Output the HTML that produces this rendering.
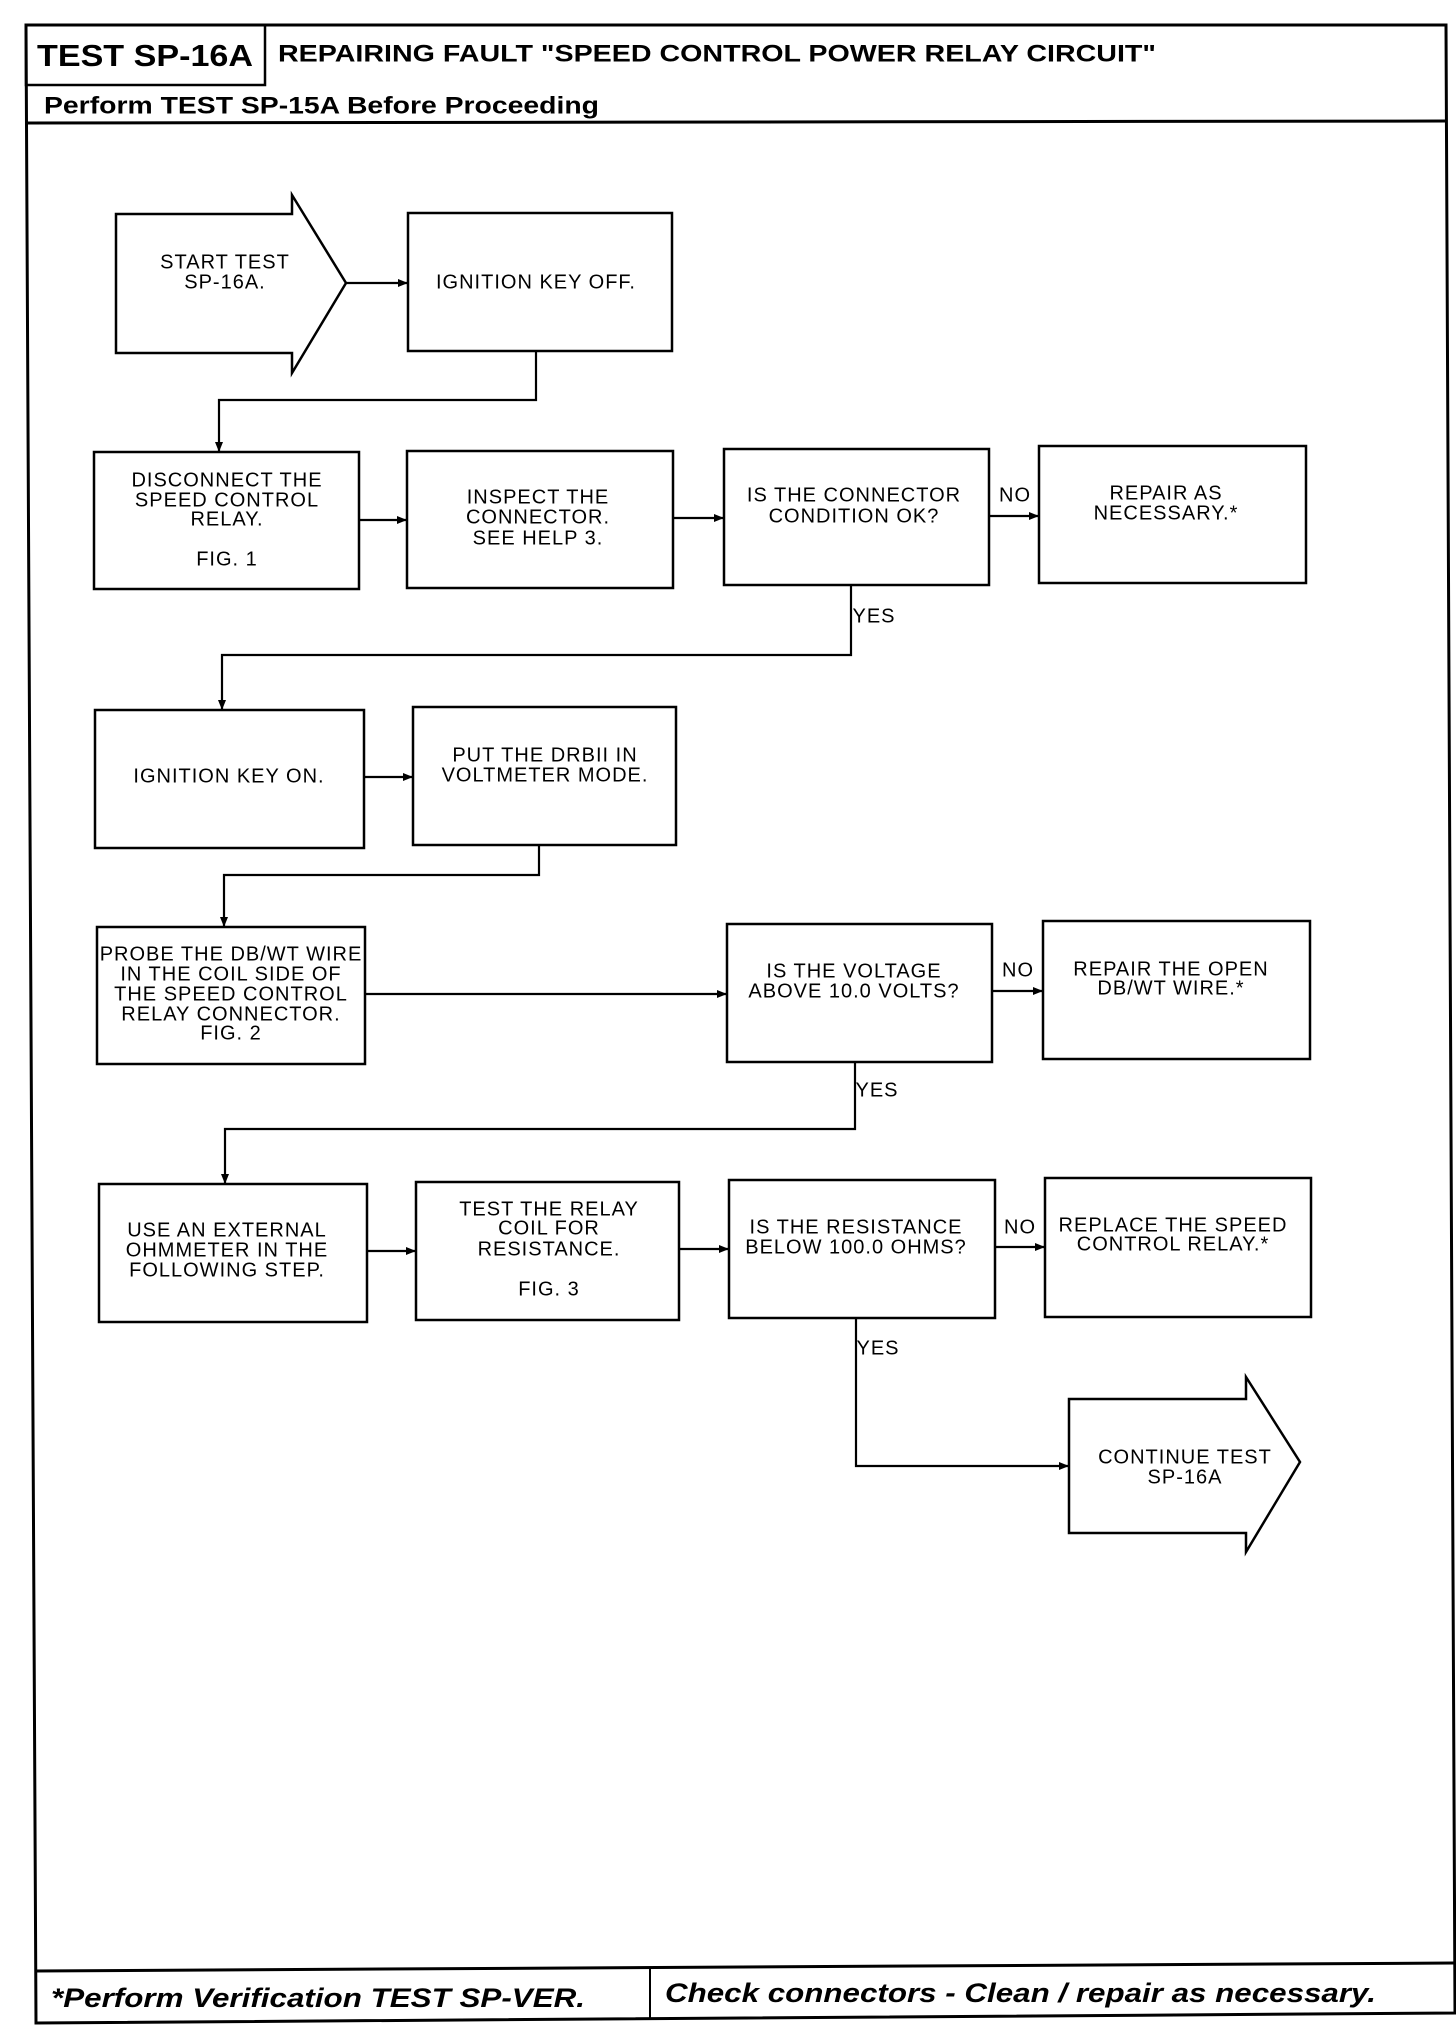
<!DOCTYPE html>
<html><head><meta charset="utf-8"><style>
html,body{margin:0;padding:0;background:#fff;}
svg{display:block;}
.t{font-family:"Liberation Sans Narrow","Liberation Sans",sans-serif;font-size:20px;fill:#000;text-anchor:middle;dominant-baseline:middle;letter-spacing:1px;}
.b{fill:#fff;stroke:#000;stroke-width:2.5;}
.l{fill:none;stroke:#000;stroke-width:2.2;}
</style></head><body>
<svg width="1456" height="2034" viewBox="0 0 1456 2034" xmlns="http://www.w3.org/2000/svg">
<defs><marker id="a" markerWidth="10" markerHeight="8" refX="9" refY="4" orient="auto" markerUnits="userSpaceOnUse"><path d="M0,0 L10,4 L0,8 z" fill="#000"/></marker></defs>
<!-- frame -->
<polygon points="26,25 1446,25 1455,2013 36,2023" fill="none" stroke="#000" stroke-width="3"/>
<rect x="26" y="25" width="239" height="60" fill="none" stroke="#000" stroke-width="2.5"/>
<line x1="26" y1="123" x2="1447" y2="121" stroke="#000" stroke-width="3"/>
<line x1="35" y1="1971" x2="1454" y2="1963" stroke="#000" stroke-width="3"/>
<line x1="650" y1="1969" x2="650" y2="2019" stroke="#000" stroke-width="2"/>
<text x="37" y="58" font-family="Liberation Sans,sans-serif" font-weight="bold" font-size="31" textLength="216" lengthAdjust="spacingAndGlyphs" dominant-baseline="middle">TEST SP-16A</text>
<text x="278" y="55" font-family="Liberation Sans,sans-serif" font-weight="bold" font-size="24" textLength="878" lengthAdjust="spacingAndGlyphs" dominant-baseline="middle">REPAIRING FAULT "SPEED CONTROL POWER RELAY CIRCUIT"</text>
<text x="44" y="107" font-family="Liberation Sans,sans-serif" font-weight="bold" font-size="24" textLength="555" lengthAdjust="spacingAndGlyphs" dominant-baseline="middle">Perform TEST SP-15A Before Proceeding</text>
<text x="51" y="2000" font-family="Liberation Sans,sans-serif" font-weight="bold" font-style="italic" font-size="27" textLength="534" lengthAdjust="spacingAndGlyphs" dominant-baseline="middle">*Perform Verification TEST SP-VER.</text>
<text x="665" y="1995" font-family="Liberation Sans,sans-serif" font-weight="bold" font-style="italic" font-size="27" textLength="711" lengthAdjust="spacingAndGlyphs" dominant-baseline="middle">Check connectors - Clean / repair as necessary.</text>

<!-- start arrow -->
<polygon class="b" points="116,214 292,214 292,195 346,283 292,373 292,353 116,353"/>
<text class="t" x="225" y="263">START TEST</text><text class="t" x="225" y="283">SP-16A.</text>
<rect class="b" x="408" y="213" width="264" height="138"/>
<text class="t" x="536" y="283">IGNITION KEY OFF.</text>
<line class="l" x1="346" y1="283" x2="407" y2="283" marker-end="url(#a)"/>
<polyline class="l" points="536,351 536,400 219,400 219,451" marker-end="url(#a)"/>

<!-- row 2 -->
<rect class="b" x="94" y="452" width="265" height="137"/>
<text class="t" x="227" y="481">DISCONNECT THE</text><text class="t" x="227" y="501">SPEED CONTROL</text><text class="t" x="227" y="520">RELAY.</text><text class="t" x="227" y="560">FIG. 1</text>
<rect class="b" x="407" y="451" width="266" height="137"/>
<text class="t" x="538" y="498">INSPECT THE</text><text class="t" x="538" y="518">CONNECTOR.</text><text class="t" x="538" y="539">SEE HELP 3.</text>
<rect class="b" x="724" y="449" width="265" height="136"/>
<text class="t" x="854" y="496">IS THE CONNECTOR</text><text class="t" x="854" y="517">CONDITION OK?</text>
<rect class="b" x="1039" y="446" width="267" height="137"/>
<text class="t" x="1166" y="494">REPAIR AS</text><text class="t" x="1166" y="514">NECESSARY.*</text>
<line class="l" x1="359" y1="520" x2="406" y2="520" marker-end="url(#a)"/>
<line class="l" x1="673" y1="518" x2="723" y2="518" marker-end="url(#a)"/>
<line class="l" x1="989" y1="516" x2="1038" y2="516" marker-end="url(#a)"/>
<text class="t" x="1015" y="496">NO</text>
<text class="t" x="874" y="617">YES</text>
<polyline class="l" points="851,585 851,655 222,655 222,709" marker-end="url(#a)"/>

<!-- row 3 -->
<rect class="b" x="95" y="710" width="269" height="138"/>
<text class="t" x="229" y="777">IGNITION KEY ON.</text>
<rect class="b" x="413" y="707" width="263" height="138"/>
<text class="t" x="545" y="756">PUT THE DRBII IN</text><text class="t" x="545" y="776">VOLTMETER MODE.</text>
<line class="l" x1="364" y1="777" x2="412" y2="777" marker-end="url(#a)"/>
<polyline class="l" points="539,845 539,875 224,875 224,926" marker-end="url(#a)"/>

<!-- row 4 -->
<rect class="b" x="97" y="927" width="268" height="137"/>
<text class="t" x="231" y="955">PROBE THE DB/WT WIRE</text><text class="t" x="231" y="975">IN THE COIL SIDE OF</text><text class="t" x="231" y="995">THE SPEED CONTROL</text><text class="t" x="231" y="1015">RELAY CONNECTOR.</text><text class="t" x="231" y="1034">FIG. 2</text>
<rect class="b" x="727" y="924" width="265" height="138"/>
<text class="t" x="854" y="972">IS THE VOLTAGE</text><text class="t" x="854" y="992">ABOVE 10.0 VOLTS?</text>
<rect class="b" x="1043" y="921" width="267" height="138"/>
<text class="t" x="1171" y="970">REPAIR THE OPEN</text><text class="t" x="1171" y="989">DB/WT WIRE.*</text>
<line class="l" x1="365" y1="994" x2="726" y2="994" marker-end="url(#a)"/>
<line class="l" x1="992" y1="991" x2="1042" y2="991" marker-end="url(#a)"/>
<text class="t" x="1018" y="971">NO</text>
<text class="t" x="877" y="1091">YES</text>
<polyline class="l" points="855,1062 855,1129 225,1129 225,1183" marker-end="url(#a)"/>

<!-- row 5 -->
<rect class="b" x="99" y="1184" width="268" height="138"/>
<text class="t" x="227" y="1231">USE AN EXTERNAL</text><text class="t" x="227" y="1251">OHMMETER IN THE</text><text class="t" x="227" y="1271">FOLLOWING STEP.</text>
<rect class="b" x="416" y="1182" width="263" height="138"/>
<text class="t" x="549" y="1210">TEST THE RELAY</text><text class="t" x="549" y="1229">COIL FOR</text><text class="t" x="549" y="1250">RESISTANCE.</text><text class="t" x="549" y="1290">FIG. 3</text>
<rect class="b" x="729" y="1180" width="266" height="138"/>
<text class="t" x="856" y="1228">IS THE RESISTANCE</text><text class="t" x="856" y="1248">BELOW 100.0 OHMS?</text>
<rect class="b" x="1045" y="1178" width="266" height="139"/>
<text class="t" x="1173" y="1226">REPLACE THE SPEED</text><text class="t" x="1173" y="1245">CONTROL RELAY.*</text>
<line class="l" x1="367" y1="1251" x2="415" y2="1251" marker-end="url(#a)"/>
<line class="l" x1="679" y1="1249" x2="728" y2="1249" marker-end="url(#a)"/>
<line class="l" x1="995" y1="1247" x2="1044" y2="1247" marker-end="url(#a)"/>
<text class="t" x="1020" y="1228">NO</text>
<text class="t" x="878" y="1349">YES</text>
<polyline class="l" points="856,1318 856,1466 1068,1466" marker-end="url(#a)"/>

<!-- continue arrow -->
<polygon class="b" points="1069,1399 1246,1399 1246,1377 1300,1462 1246,1552 1246,1533 1069,1533"/>
<text class="t" x="1185" y="1458">CONTINUE TEST</text><text class="t" x="1185" y="1478">SP-16A</text>
</svg>
</body></html>
